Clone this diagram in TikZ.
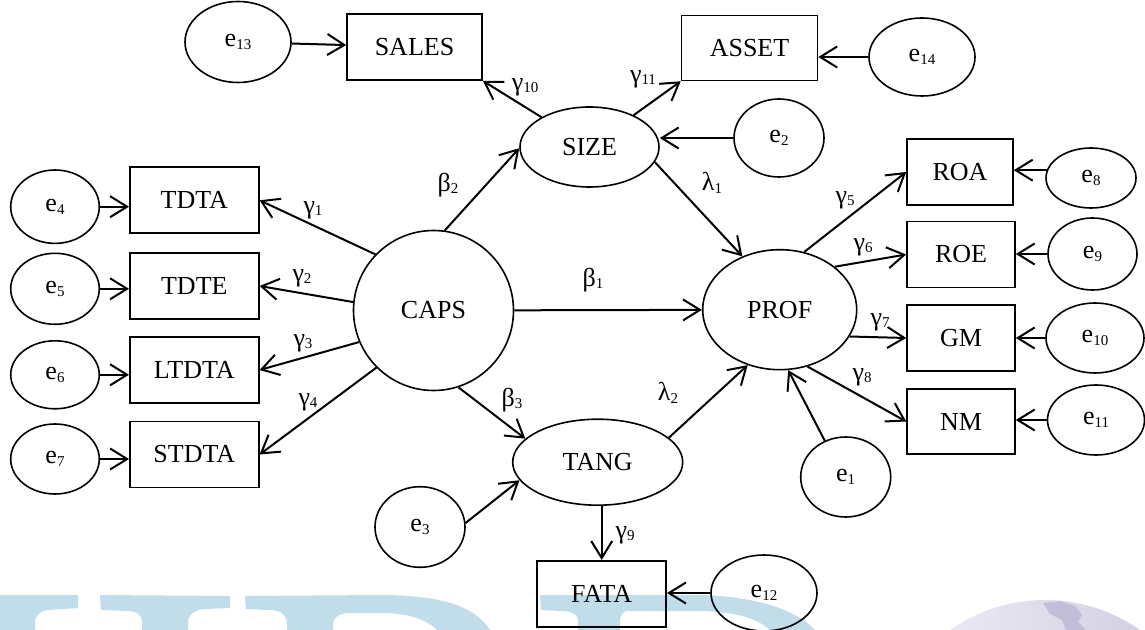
\documentclass[tikz,border=0pt]{standalone}
\usepackage{fontspec}
\setmainfont{Liberation Serif}
\usetikzlibrary{arrows.meta,shapes.geometric}
\definecolor{wmblue}{RGB}{193,221,234}
\definecolor{globeL}{RGB}{242,241,247}
\definecolor{globeR}{RGB}{204,200,223}
\definecolor{landc}{RGB}{194,190,215}
\newcommand\sbx[1]{\raisebox{-1.3pt}{\fontsize{7.5}{8}\selectfont #1}}
\begin{document}
\begin{tikzpicture}[x=0.5pt,y=-0.5pt,
  every node/.style={font=\fontsize{13}{15}\selectfont},
  box/.style={draw,line width=0.8pt,rectangle,inner sep=0pt},
  lat/.style={draw,line width=0.8pt,ellipse,inner sep=0pt},
  arr/.style={line width=1pt,-{Straight Barb[length=8.5pt,width=10.5pt,line width=1pt]}},
  lab/.style={inner sep=0pt}]
\useasboundingbox (0,0) rectangle (1145,630);
% watermark
\begin{scope}
\clip (0,0) rectangle (1145,630);
\fill[wmblue] (0,595) -- (78,595) -- (78,608) -- (48,610) .. controls (39,611) and (35,616) .. (35,623) -- (35,630) -- (0,630) -- cycle;
\fill[wmblue] (100,595) -- (230,596) -- (230,608) -- (205,609) .. controls (193,610) and (188,615) .. (188,623) -- (188,630) -- (142,630) -- (142,623) .. controls (142,614) and (137,611) .. (126,611) -- (101,610) -- cycle;
\fill[wmblue] (245,596) -- (380,595) .. controls (440,595) and (475,606) .. (490,630) -- (437,630) .. controls (425,618) and (405,613) .. (380,613) -- (350,613) .. controls (340,613) and (333,617) .. (333,624) -- (333,630) -- (287,630) -- (287,624) .. controls (287,614) and (280,610) .. (268,610) -- (246,609) -- cycle;
\fill[wmblue] (540,595) -- (700,595) .. controls (750,596) and (795,608) .. (815,630) -- (770,630) .. controls (755,617) and (735,612) .. (700,611) -- (627,611) .. controls (622,612) and (620,616) .. (620,622) -- (620,630) -- (578,630) -- (578,621) .. controls (578,614) and (572,611) .. (560,611) -- (541,610) -- cycle;
\shade[left color=globeL, right color=globeR] (1045,765) circle[radius=165];
\fill[landc] (1043,603) -- (1060,601) -- (1075,606) -- (1082,615) -- (1078,622) -- (1086,630) -- (1066,630) -- (1062,620) -- (1050,614) -- cycle;
\end{scope}
% boxes
\node[box,minimum width=67.5pt,minimum height=33pt] (SALES) at (414.5,47) {SALES};
\node[box,minimum width=68pt,minimum height=32.5pt] (ASSET) at (749.5,48) {ASSET};
\node[box,minimum width=64.5pt,minimum height=33pt] (TDTA) at (194.3,200.3) {TDTA};
\node[box,minimum width=64.5pt,minimum height=33pt] (TDTE) at (194.3,286) {TDTE};
\node[box,minimum width=64.5pt,minimum height=33pt] (LTDTA) at (194.3,370) {LTDTA};
\node[box,minimum width=64.5pt,minimum height=33pt] (STDTA) at (194.3,454.5) {STDTA};
\node[box,minimum width=53pt,minimum height=33pt] (ROA) at (960,172) {ROA};
\node[box,minimum width=54pt,minimum height=33pt] (ROE) at (961,254.5) {ROE};
\node[box,minimum width=54pt,minimum height=33pt] (GM) at (961,338) {GM};
\node[box,minimum width=54pt,minimum height=32.5pt] (NM) at (961,421.5) {NM};
\node[box,minimum width=64.5pt,minimum height=33pt] (FATA) at (601.7,593.7) {FATA};
% latent / error ellipses
\node[lat,minimum width=53pt,minimum height=40.5pt] (e13) at (238,42) {e\sbx{13}};
\node[lat,minimum width=53pt,minimum height=39pt] (e14) at (922,57) {e\sbx{14}};
\node[lat,minimum width=45pt,minimum height=39pt] (e2) at (779,138) {e\sbx{2}};
\node[lat,minimum width=69.5pt,minimum height=40pt] (SIZE) at (589.5,147) {SIZE};
\node[lat,minimum width=45pt,minimum height=30pt] (e8) at (1091,178) {e\sbx{8}};
\node[lat,minimum width=44.5pt,minimum height=36pt] (e9) at (1092.5,254) {e\sbx{9}};
\node[lat,minimum width=49pt,minimum height=35pt] (e10) at (1095,338) {e\sbx{10}};
\node[lat,minimum width=48.5pt,minimum height=35pt] (e11) at (1096,420) {e\sbx{11}};
\node[lat,minimum width=77pt,minimum height=60pt] (PROF) at (779.7,309.7) {PROF};
\node[lat,minimum width=45pt,minimum height=40pt] (e1) at (845.7,477) {e\sbx{1}};
\node[lat,minimum width=44.3pt,minimum height=36.7pt] (e4) at (55,206.7) {e\sbx{4}};
\node[lat,minimum width=44.3pt,minimum height=35.5pt] (e5) at (55,288.8) {e\sbx{5}};
\node[lat,minimum width=44.3pt,minimum height=34pt] (e6) at (55,374.8) {e\sbx{6}};
\node[lat,minimum width=44.3pt,minimum height=35pt] (e7) at (55,459) {e\sbx{7}};
\node[draw,line width=0.8pt,circle,inner sep=0pt,minimum size=80pt] (CAPS) at (433.5,310.5) {CAPS};
\node[lat,minimum width=85pt,minimum height=43pt] (TANG) at (597.7,462.2) {TANG};
\node[lat,minimum width=45pt,minimum height=40.3pt] (e3) at (420,527) {e\sbx{3}};
\node[lat,minimum width=53pt,minimum height=38pt] (e12) at (764,593) {e\sbx{12}};
% connectors
\draw[arr] (e13) -- (SALES);
\draw[arr] (SIZE) -- (SALES.south east);
\draw[arr] (SIZE) -- (ASSET.south west);
\draw[arr] (e14) -- (e14 -| ASSET.east);
\draw[arr] (e2) -- (e2 -| SIZE.east);
\draw[arr] (SIZE.-13.5) -- (PROF.125);
\draw[arr] (CAPS.82) -- (SIZE.181);
\draw[arr] (CAPS) -- (PROF);
\draw[arr] (CAPS.136) -- (TDTA.east);
\draw[arr] (CAPS.174) -- (TDTE.east);
\draw[arr] (CAPS.203) -- (LTDTA.east);
\draw[arr] (CAPS.225.5) -- (STDTA.east);
\draw[arr] (e4) -- (e4 -| TDTA.west);
\draw[arr] (e5) -- (e5 -| TDTE.west);
\draw[arr] (e6) -- (e6 -| LTDTA.west);
\draw[arr] (e7) -- (e7 -| STDTA.west);
\draw[arr] (CAPS.-72.3) -- (TANG.162);
\draw[arr] (e3.5) -- (TANG.193);
\draw[arr] (TANG.19) -- (PROF.240);
\draw[arr] (FATA.north |- TANG.south) -- (FATA.north);
\draw[arr] (e12) -- (e12 -| FATA.east);
\draw[arr] (e1.120) -- (PROF.-82);
\draw[arr] (PROF.67) -- (ROA.west);
\draw[arr] (PROF.38) -- (ROE.west);
\draw[arr] (PROF.-21.6) -- (GM.west);
\draw[arr] (PROF.-64) -- (NM.west);
\draw[arr] (e8.170) -- (e8.170 -| ROA.east);
\draw[arr] (e9) -- (e9 -| ROE.east);
\draw[arr] (e10) -- (GM);
\draw[arr] (e11) -- (e11 -| NM.east);
% labels
\node[lab] (lg10) at (525,87) {γ\sbx{10}};
\node[lab] (lg11) at (643,79) {γ\sbx{11}};
\node[lab] (lb2) at (448,185) {β\sbx{2}};
\node[lab] (ll1) at (712,183) {λ\sbx{1}};
\node[lab] (lg1) at (313,210) {γ\sbx{1}};
\node[lab] (lg2) at (302,278) {γ\sbx{2}};
\node[lab] (lg3) at (303,343) {γ\sbx{3}};
\node[lab] (lg4) at (308,402) {γ\sbx{4}};
\node[lab] (lb1) at (593,280) {β\sbx{1}};
\node[lab] (lb3) at (512,400) {β\sbx{3}};
\node[lab] (ll2) at (668,393) {λ\sbx{2}};
\node[lab] (lg9) at (625,535) {γ\sbx{9}};
\node[lab] (lg5) at (845,200) {γ\sbx{5}};
\node[lab] (lg6) at (863,247) {γ\sbx{6}};
\node[lab] (lg7) at (880,322) {γ\sbx{7}};
\node[lab] (lg8) at (862,377) {γ\sbx{8}};
\end{tikzpicture}
\end{document}
